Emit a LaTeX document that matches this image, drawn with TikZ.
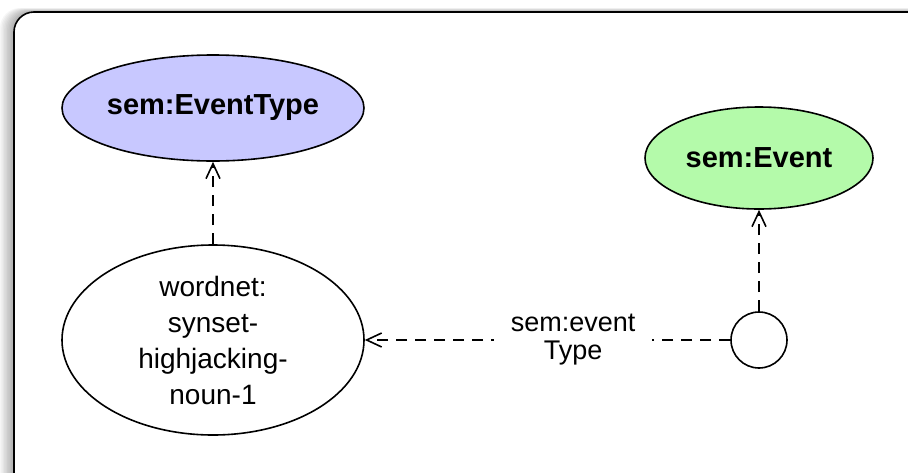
\documentclass[tikz,border=0pt]{standalone}
\usepackage{fontspec}
\setmainfont{Liberation Sans}
\usetikzlibrary{shapes.geometric,arrows.meta}

\definecolor{typeblue}{RGB}{200,200,255}
\definecolor{eventgreen}{RGB}{180,250,170}

\begin{document}
\begin{tikzpicture}[x=1pt,y=-1pt,
        thick,line width=1.6pt,
        class node/.style={ellipse,draw,font=\fontsize{29}{36}\selectfont\bfseries,inner sep=0pt},
        res node/.style={ellipse,draw,fill=white,align=center,font=\fontsize{28}{36}\selectfont,inner sep=0pt},
        blank node/.style={circle,draw,fill=white,minimum size=56pt,inner sep=0pt},
        rel/.style={dash pattern=on 11pt off 8pt,-{Straight Barb[length=15pt,width=14pt]}}]

    \useasboundingbox (0,0) rectangle (908,472);

    % frame with soft shadow
    \foreach \s in {1,...,10}
        \fill[black,opacity=0.035,rounded corners=20pt] (14-1.4*\s,12-0.4*\s) rectangle (930,500);
    \draw[fill=white,rounded corners=20pt] (14,12) rectangle (930,500);

    \node[class node,fill=typeblue,minimum width=302pt,minimum height=106pt] (type) at (213,108) {sem:EventType};
    \node[class node,fill=eventgreen,minimum width=228pt,minimum height=102pt] (event) at (759,158) {sem:Event};
    \node[res node,minimum width=302pt,minimum height=190pt] (synset) at (213,340)
        {wordnet:\\synset-\\highjacking-\\noun-1};
    \node[blank node] (ev) at (759,340) {};

    \path[rel]
    (synset) edge (type)
    (ev) edge (event)
    (ev) edge node[pos=0.43,fill=white,inner xsep=17pt,inner ysep=2pt,align=center,
                   font=\fontsize{27}{28}\selectfont] {sem:event\\Type} (synset);
\end{tikzpicture}
\end{document}
